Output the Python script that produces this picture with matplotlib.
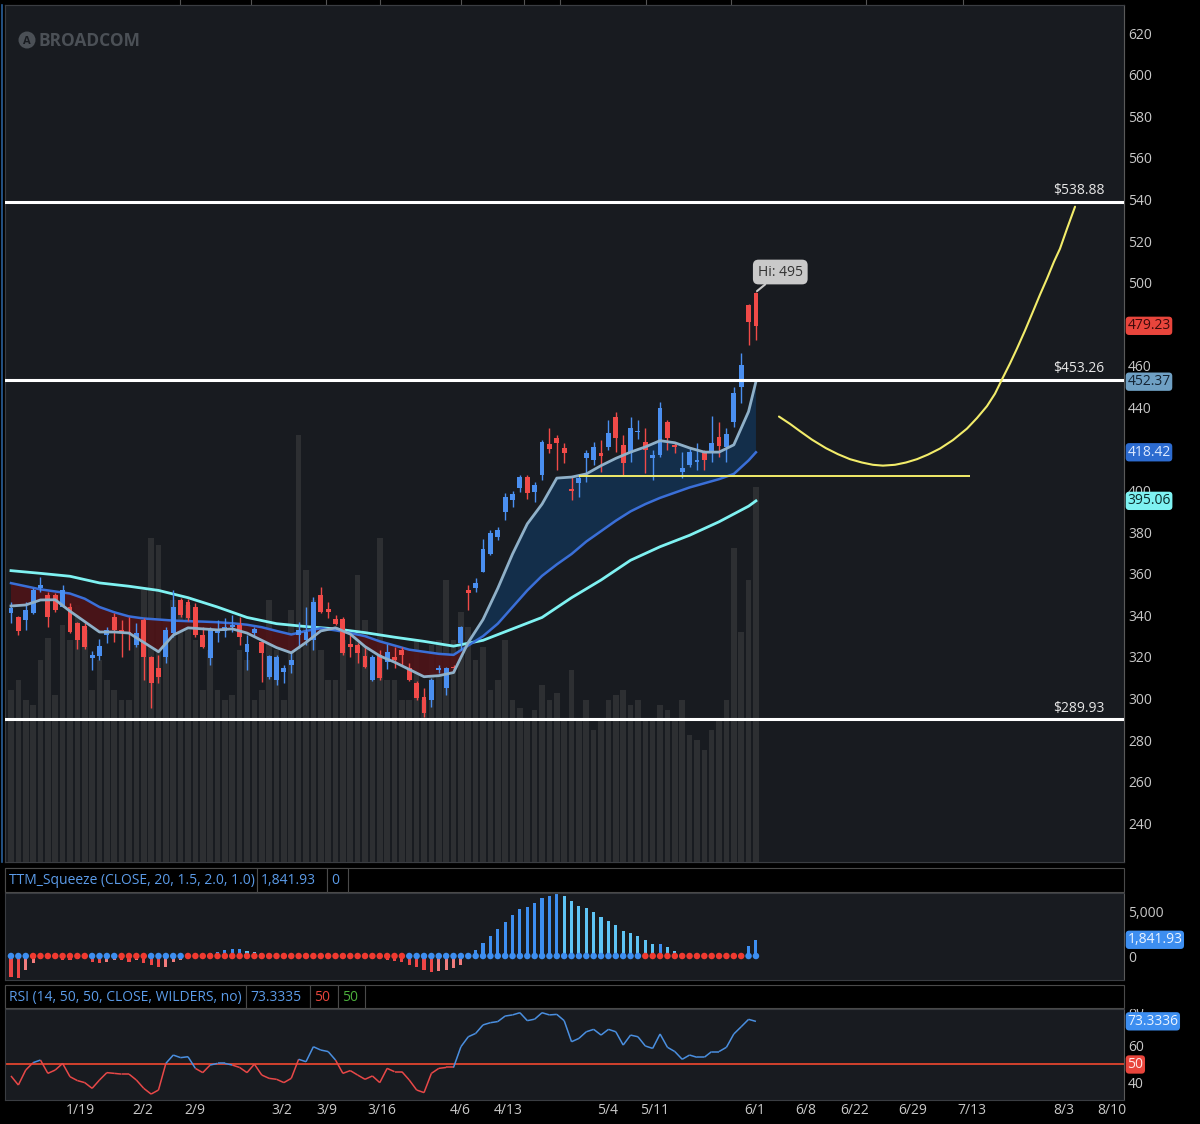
import matplotlib
matplotlib.use("Agg")
import matplotlib.pyplot as plt
import matplotlib.transforms as mtrans
from matplotlib.patches import Rectangle, Circle
from matplotlib.collections import LineCollection
import numpy as np

plt.rcParams['font.family'] = ['Open Sans', 'DejaVu Sans']

# ---------------- data ----------------
opens = [341, 339, 337.8, 341.2, 353, 349.8, 349.8, 344, 344, 336.3,
         335, 319.5, 320.5, 330.6, 339, 333, 331.8, 325.8, 337.8, 320,
         314.7, 320, 331.5, 347.4, 346.6, 344, 330.6, 319.5, 331.5, 332.7,
         334.6, 335.4, 322.5, 331.7, 327.4, 310.4, 309, 312.8, 316, 330.6,
         328, 328, 349.8, 343, 338.3, 338.3, 326, 325.8, 320.5, 309,
         321, 317.8, 320, 323.4, 314.7, 307.5, 300.8, 299.3, 313.7, 305,
         315.4, 326.7, 352.2, 353.2, 361, 369.5, 377.7, 389.7, 395.5, 401.2,
         406.5, 399.3, 407.5, 422.4, 425.3, 420.5, 400.8, 403.6, 415.7, 414.7,
         418, 421, 435.4, 422, 418, 428, 423.4, 415.7, 417, 433,
         422, 409, 412.3, 413.7, 418, 418.6, 425.8, 421, 433, 449.8,
         489.2, 495]
highs = [346.6, 339.8, 346.6, 353.2, 358.5, 351.4, 350.8, 354.6, 345.8, 337,
         336.3, 323, 328.8, 334.6, 341, 337.8, 339, 336.2, 338.6, 320.6,
         321, 334.6, 352, 348.2, 347.8, 345.8, 334.6, 334.6, 337.8, 338.6,
         340.2, 339.4, 330.6, 334.6, 327.8, 321, 320.8, 316.2, 321.8, 337,
         344, 348.8, 353.6, 346.6, 340.2, 339.4, 330.6, 326.6, 325, 321,
         323.4, 326.4, 325, 325, 317, 308.2, 305, 309.8, 316.2, 315.4,
         316.2, 334.8, 354.6, 357.8, 376.7, 381, 382.6, 399, 400, 407.5,
         407.5, 404.3, 424.3, 430, 426.7, 423, 406.5, 407.5, 419.5, 423.6,
         424.3, 434, 437.8, 426.7, 435.5, 433.9, 430, 419.5, 442.6, 433.9,
         422.7, 418.6, 421.1, 422.7, 419.5, 436, 433, 430, 449.8, 466,
         489.6, 495.5]
lows = [336.2, 330.6, 333, 340.8, 351, 334.4, 341.8, 344, 331.5, 324,
        324, 313.8, 318.6, 326.6, 327.4, 320, 323.4, 325, 309, 295.5,
        307.4, 317, 329.8, 339.4, 337.5, 329.8, 324.2, 316, 327.4, 329.8,
        332.2, 325.8, 313.8, 329.8, 308, 309.6, 306.5, 307.4, 312.2, 324.2,
        325.8, 323.4, 341, 338.6, 335.4, 321, 320.1, 317, 314.6, 308.2,
        309, 314.4, 314.6, 316.2, 308.6, 299.3, 291, 296, 312.2, 301.7,
        313, 323.4, 342.6, 351.4, 361, 369, 376.3, 386, 392.3, 399.5,
        395.8, 394.7, 405, 418, 410, 413.5, 395.5, 397, 404.1, 412.3,
        408.9, 419.5, 418.7, 407.5, 413.9, 425, 408.5, 405, 416.3, 419.5,
        417.9, 406.1, 411.5, 409.9, 409.9, 413.9, 416.3, 413.7, 430.7, 442,
        470, 472.4]
closes = [343.5, 332.4, 342.6, 352, 354.6, 339.2, 342.6, 352, 332, 328,
          324.8, 321, 325.3, 333, 333, 331.5, 331, 331.5, 320, 307.5,
          310.4, 333, 344, 340.2, 338.9, 330.6, 325, 333, 333.5, 334.3,
          335.4, 329.8, 326.2, 333.3, 321.8, 320.5, 320, 314.7, 318.6, 333,
          332, 346.4, 341.6, 341.8, 336, 322, 325, 322, 315.2, 320,
          310, 322.6, 318.5, 321, 309, 300.2, 293, 309, 314.7, 314.7,
          314.6, 334.4, 350.8, 355.6, 372, 379.6, 381, 397, 398.4, 406.5,
          399, 402.7, 423.4, 420, 423, 418, 399.8, 406, 418, 421,
          416.6, 427.7, 425.3, 413.3, 430, 428.6, 419.5, 417, 439.7, 425.3,
          421, 411, 418.6, 414.7, 414.7, 422.9, 421.4, 427.2, 447, 460.4,
          481, 479.23]
volume_m = [2.01, 2.12, 1.89, 1.83, 2.36, 2.61, 1.95, 2.77, 2.59, 3.00,
            2.71, 2.01, 2.36, 2.12, 2.01, 1.89, 1.89, 2.59, 3.17, 3.78,
            3.70, 2.82, 3.06, 3.06, 3.00, 2.59, 2.01, 2.47, 2.01, 1.89,
            1.95, 2.47, 2.36, 1.89, 2.01, 3.06, 2.47, 1.89, 2.94, 4.98,
            3.41, 3.06, 2.47, 2.12, 2.12, 2.59, 2.01, 3.35, 2.82, 2.36,
            3.78, 2.12, 2.12, 1.89, 1.89, 2.59, 1.89, 2.53, 2.59, 3.29,
            2.59, 2.92, 2.74, 2.36, 2.51, 2.01, 2.12, 2.59, 1.89, 1.80,
            1.66, 1.77, 2.07, 1.89, 1.97, 1.66, 2.24, 1.66, 1.89, 1.54,
            1.66, 1.89, 1.95, 2.01, 1.83, 1.89, 1.66, 1.66, 1.83, 1.77,
            1.66, 1.89, 1.48, 1.42, 1.31, 1.54, 1.66, 1.89, 3.66, 2.68,
            3.29, 4.38]

# moving averages, one value every second bar (+ last bar)
ema_fast = [344.5, 345, 347.4, 347.5, 342, 337, 332, 332, 331.5, 327,
            322.5, 330.5, 334, 333.5, 333, 333.5, 331.5, 328, 324.5, 322,
            327, 332.5, 334, 331, 325, 320.5, 317.5, 314, 310.5, 311,
            312.5, 327, 338, 353, 369.5, 384, 393.5, 406, 406.5, 408,
            412, 415.5, 418.5, 421, 424, 423, 420.5, 418.5, 418.5, 422,
            438, 452.37]
ema_mid = [355.5, 354, 352.5, 351.5, 350.5, 348, 344, 341.5, 339.5, 338.5,
           338, 337.5, 337.2, 337, 336.7, 336.2, 335.5, 334.3, 332.5, 330.8,
           332.5, 333.8, 332.8, 331.5, 330, 327.5, 325.5, 323.5, 322.5, 321.5,
           321, 325.5, 330, 336, 344, 352, 359, 364.5, 369.5, 375.5,
           380.5, 385.5, 390, 393.5, 396.5, 399, 401.5, 403.5, 405.5, 408,
           414.5, 418.42]
# slow average, one value every fourth bar (+ last bar)
sma_slow = [361.5, 360.2, 358.8, 355.6, 354, 352, 348.5, 344, 339, 336,
            334.6, 333.5, 331.7, 329.5, 327.5, 325.2, 328, 333.5, 339, 348.5,
            357, 366.5, 373, 378.5, 385, 392.5, 395.06]

squeeze_hist = [-2400, -2500, -1600, -800, -300, -200, -100, -400, -450, -300,
                -150, -650, -850, -650, -450, -450, -650, -450, -850, -1000,
                -1250, -1200, -650, -400, -150, -50, 100, 300, 500, 700,
                750, 750, 600, 500, 300, 100, -50, -100, -50, 50,
                100, 50, -50, -100, -50, -100, -150, -100, -200, -300,
                -300, -500, -550, -700, -1000, -1250, -1600, -1800, -1750, -1600,
                -1350, -1000, 200, 700, 1450, 2270, 3070, 3900, 4700, 5360,
                5600, 6060, 6600, 6860, 7010, 6860, 6290, 5680, 5450, 5030,
                4470, 4010, 3520, 2880, 2610, 2270, 1820, 1360, 1360, 990,
                600, 200, 80, 50, -50, -100, -200, -300, -150, -50,
                1140, 1841.93]
squeeze_dots = ("bbb" + "rrrrrrrr" + "bbbb" + "rrrr" + "bbbbb" + "r" * 30 +
                "b" * 32 + "r" * 14 + "bb")

rsi = [43.8, 38.9, 47, 51, 52.4, 45.2, 47, 50.6, 43.4, 41.3,
       40.2, 37.1, 41.6, 45.6, 45.2, 44.8, 44.8, 41.6, 37.1, 34,
       36.2, 50.6, 55.1, 53.7, 54.2, 47.9, 45.6, 49.7, 50.6, 50.6,
       49.7, 48.4, 45.6, 50.2, 44.3, 42.5, 42, 40.2, 42.5, 52.8,
       51.5, 59.6, 57.8, 57, 52.4, 45.2, 46.7, 44.3, 42, 43.8,
       40.2, 47.9, 46.1, 46.1, 41.6, 36.2, 34.8, 45.2, 47.9, 48.4,
       48.4, 59.6, 65, 66.8, 71.4, 72.6, 73.2, 76.2, 76.8, 78,
       73.7, 74.5, 78, 76.8, 77.1, 73.7, 62.3, 64.1, 67.7, 69,
       65.9, 69, 67.7, 60.5, 65.9, 65, 60, 58.7, 66.5, 59.3,
       57, 52.8, 55.1, 53.9, 53.9, 57, 57, 59.3, 66.5, 70.4,
       74.4, 73.3]

levels = [538.88, 453.26, 289.93]
support = 407            # short yellow line
support_from, support_to = 77, 130
# hand-drawn yellow projection curve (bar position, price)
curve_x = [104.12, 105.61, 106.96, 108.59, 110.49, 112.12, 113.75, 115.37, 116.86,
           118.22, 119.85, 121.34, 122.83, 124.32, 125.95, 127.71, 129.61, 130.97,
           132.32, 133.41, 134.35, 135.44, 136.39, 137.47, 138.56, 139.51, 140.46,
           141.41, 142.22, 143.17, 144.26]
curve_y = [435.6, 432.1, 428.6, 424.5, 420.4, 417.5, 415.1, 413.5, 412.4,
           412.0, 412.4, 413.5, 415.1, 417.3, 420.2, 424.3, 429.8, 434.9,
           440.6, 446.6, 453.4, 461.1, 468.3, 476.9, 486.1, 494.2, 501.9,
           510.1, 516.3, 525.9, 536.5]

date_labels = ['1/19', '2/2', '2/9', '3/2', '3/9', '3/16', '4/6', '4/13', '5/4',
               '5/11', '6/1', '6/8', '6/22', '6/29', '7/13', '8/3', '8/10']
date_pos = [9.35, 17.9, 24.95, 36.74, 42.84, 50.3, 60.87, 67.38, 80.94,
            87.31, 100.87, 107.78, 114.43, 122.29, 130.29, 142.76, 149.27]
price_ticks = [240, 260, 280, 300, 320, 340, 360, 380, 400, 440, 460, 500,
               520, 540, 560, 580, 600, 620]

# ---------------- layout ----------------
W, H = 1200, 1124
BG = '#181b20'
UP, DOWN = '#4a8ff0', '#f04a48'
GRID = '#3a3d42'
TXT = '#c8c8c8'
XLIM = (-0.81, 150.9)


def rect(x0, y0, x1, y1):
    return [x0 / W, 1 - y1 / H, (x1 - x0) / W, (y1 - y0) / H]


fig = plt.figure(figsize=(W / 100, H / 100), dpi=100, facecolor='black')

# overlay in pixel coordinates for headers and logo
lay = fig.add_axes([0, 0, 1, 1], zorder=0)
lay.set_xlim(0, W)
lay.set_ylim(H, 0)
lay.axis('off')
for tx in [180, 251, 326, 380, 461, 524, 560, 646, 731, 866, 963]:
    lay.plot([tx, tx], [0, 5], color='#555555', lw=0.8)
lay.plot([1.5, 1.5], [5, 862], color='#2a5f9a', lw=1.2)


def header(y0, y1, boxes):
    lay.add_patch(Rectangle((5, y0), 1119, y1 - y0, fc='black', ec='#4a4a4a', lw=0.8))
    for x0, x1, txt, col in boxes:
        lay.add_patch(Rectangle((x0, y0), x1 - x0, y1 - y0, fc='black', ec='#4a4a4a', lw=0.8))
        lay.text(x0 + 4, (y0 + y1) / 2 + 1, txt, color=col, fontsize=10, va='center', ha='left')


header(868, 892, [(5, 257, 'TTM_Squeeze (CLOSE, 20, 1.5, 2.0, 1.0)', '#5b9be8'),
                  (257, 327, '1,841.93', '#5b9be8'),
                  (327, 348, '0', '#5b9be8')])
header(985, 1008, [(5, 246, 'RSI (14, 50, 50, CLOSE, WILDERS, no)', '#5b9be8'),
                   (246, 310, '73.3335', '#5b9be8'),
                   (310, 338, '50', '#e8453c'),
                   (338, 365, '50', '#4caf3c')])

# ---------------- main price panel ----------------
axv = fig.add_axes(rect(5, 5, 1124, 862), zorder=1)
axv.set_facecolor(BG)
axv.set_xlim(*XLIM)
axv.set_ylim(0, 10)
axv.set_xticks([])
axv.set_yticks([])
for s in axv.spines.values():
    s.set_color(GRID)

idx = np.arange(len(closes))
axv.bar(idx, volume_m, width=0.76, color='#2d2f32', zorder=1)

ax = fig.add_axes(rect(5, 5, 1124, 862), zorder=2)
ax.set_facecolor('none')
ax.set_xlim(*XLIM)
ax.set_ylim(221.4, 633.5)
for s in ax.spines.values():
    s.set_color(GRID)
ax.spines['right'].set_color('#5a5a5a')
ax.set_xticks([])
ax.yaxis.tick_right()
ax.set_yticks(price_ticks)
ax.tick_params(axis='y', length=0, pad=3, labelcolor=TXT, labelsize=10)

# averages and cloud
node2 = list(range(0, 101, 2)) + [101]
node4 = list(range(0, 101, 4)) + [101]
f = np.array(ema_fast)
m = np.array(ema_mid)
ax.fill_between(node2, f, m, where=f < m, interpolate=True, color='#4e1418', alpha=0.9, lw=0, zorder=2)
ax.fill_between(node2, f, m, where=f >= m, interpolate=True, color='#13304d', alpha=0.95, lw=0, zorder=2)
ax.plot(node4, sma_slow, color='#7ff2f2', lw=2.0, zorder=3)
ax.plot(node2, ema_mid, color='#3a6fd8', lw=1.8, zorder=3)

# candles
o = np.array(opens)
c = np.array(closes)
up = c >= o
cols = np.where(up, UP, DOWN)
ax.vlines(idx, lows, highs, colors=cols, lw=1.0, zorder=4)
ax.bar(idx, np.maximum(np.abs(c - o), 0.7), bottom=np.minimum(o, c), width=0.66,
       color=cols, zorder=5)
ax.plot(node2, ema_fast, color='#8fb0c8', lw=2.0, zorder=6)

# horizontal levels
for lv in levels:
    ax.axhline(lv, color='white', lw=2.2, zorder=7)
    ax.annotate('$%.2f' % lv, xy=(1.0, lv), xycoords=('axes fraction', 'data'),
                xytext=(-14, 2.5), textcoords='offset points', ha='right', va='bottom',
                color='#e6e6e6', fontsize=10, zorder=8)

ax.hlines(support, support_from, support_to, color='#f2ec6a', lw=1.4, zorder=7)
ax.plot(curve_x, curve_y, color='#f2ec6a', lw=1.5, zorder=7, solid_capstyle='round')

ax.annotate('Hi: 495', xy=(101, 495.5), xytext=(104.3, 505.1), ha='center', va='center',
            color='#333333', fontsize=10, zorder=9,
            bbox=dict(boxstyle='round,pad=0.35,rounding_size=0.4', fc='#c9c9c9', ec='none'),
            arrowprops=dict(arrowstyle='-', color='#c9c9c9', lw=1.5, shrinkA=0, shrinkB=1))

# logo
lay2 = fig.add_axes([0, 0, 1, 1], zorder=3)
lay2.set_xlim(0, W)
lay2.set_ylim(H, 0)
lay2.axis('off')
lay2.add_patch(Circle((27, 40), 8.5, fc='#4b5056', ec='none'))
lay2.text(27, 41, 'A', color=BG, fontsize=8, ha='center', va='center', fontweight='bold')
lay2.text(38, 40.5, 'BROADCOM', color='#4b5056', fontsize=12.5, fontweight='bold',
          ha='left', va='center')


def badge(axis, y, txt, fc, tc):
    tr = mtrans.blended_transform_factory(axis.transAxes, axis.transData)
    axis.text(1.003, y, txt, transform=tr, ha='left', va='center', color=tc, fontsize=10,
              clip_on=False, zorder=10,
              bbox=dict(boxstyle='round,pad=0.12,rounding_size=0.25', fc=fc, ec='none'))


badge(ax, 479.23, '479.23', '#e8453c', '#3b0a0a')
badge(ax, 452.37, '452.37', '#6fa0c4', '#142434')
badge(ax, 418.42, '418.42', '#2c6bd0', '#dbe8ff')
badge(ax, 395.06, '395.06', '#7ef2f2', '#0a2a2a')

# ---------------- TTM squeeze ----------------
axs = fig.add_axes(rect(5, 893, 1124, 980), zorder=1)
axs.set_facecolor(BG)
axs.set_xlim(*XLIM)
axs.set_ylim(-2727, 7159)
for s in axs.spines.values():
    s.set_color(GRID)
axs.spines['right'].set_color('#5a5a5a')
axs.set_xticks([])
axs.yaxis.tick_right()
axs.set_yticks([0, 5000])
axs.set_yticklabels(['0', '5,000'])
axs.tick_params(axis='y', length=0, pad=3, labelcolor=TXT, labelsize=10)

hv = np.array(squeeze_hist, dtype=float)
prev = np.concatenate([[hv[0]], hv[:-1]])
hcols = np.where(hv >= 0, np.where(hv >= prev, '#3d8ef0', '#5ec4f5'),
                 np.where(hv <= prev, '#ee4646', '#f27c7c'))
axs.bar(idx, hv, width=0.42, color=hcols, zorder=2)
dcols = ['#f03a30' if d == 'r' else '#3d8ef0' for d in squeeze_dots]
axs.scatter(idx, np.zeros(len(idx)), s=22, c=dcols, zorder=3, linewidths=0)
badge(axs, 1841.93, '1,841.93', '#3d8ef0', '#eaf3ff')

# ---------------- RSI ----------------
axr = fig.add_axes(rect(5, 1009, 1124, 1100), zorder=1)
axr.set_facecolor(BG)
axr.set_xlim(*XLIM)
axr.set_ylim(30.8, 80)
for s in axr.spines.values():
    s.set_color(GRID)
axr.spines['right'].set_color('#5a5a5a')
axr.yaxis.tick_right()
axr.set_yticks([40, 60, 80])
axr.tick_params(axis='y', length=0, pad=3, labelcolor=TXT, labelsize=10)
axr.set_xticks(date_pos)
axr.set_xticklabels(date_labels)
axr.tick_params(axis='x', length=0, pad=2, labelcolor=TXT, labelsize=10)

# the top tick label of the RSI scale is cut by the panel edge, as on screen
clip = Rectangle((1124 / W, 1 - 1100 / H), 76 / W, 91 / H, transform=fig.transFigure,
                 fc='none', ec='none')
fig.add_artist(clip)
for lab in axr.get_yticklabels():
    lab.set_clip_path(clip)

axr.axhline(50, color='#e0452e', lw=1.3, zorder=2)
rv = np.array(rsi)
pts = np.column_stack([idx, rv])
segs = np.stack([pts[:-1], pts[1:]], axis=1)
scol = ['#4a8fe0' if (a + b) / 2 >= 50 else '#e84848' for a, b in zip(rv[:-1], rv[1:])]
axr.add_collection(LineCollection(segs, colors=scol, linewidths=1.1, zorder=3))
badge(axr, 73.3336, '73.3336', '#3d8ef0', '#eaf3ff')
badge(axr, 50, '50', '#e8453c', '#ffe8e8')

fig.savefig('out.png', dpi=100, facecolor='black')
